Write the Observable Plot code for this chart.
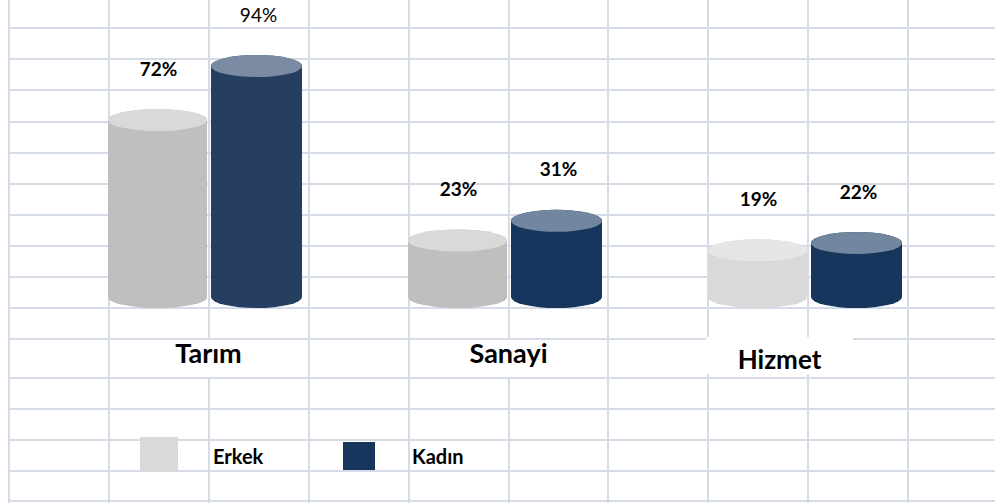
<!DOCTYPE html>
<html><head><meta charset="utf-8">
<script src="https://cdn.jsdelivr.net/npm/d3@7"></script>
<script src="https://cdn.jsdelivr.net/npm/@observablehq/plot@0.6"></script>
<style>
body{margin:0;background:#fff;}
#wrap{position:relative;width:995px;height:504px;overflow:hidden;font-family:Lato,"Open Sans",sans-serif;}
.gl{position:absolute;background:#d5dce8;}
.box{position:absolute;background:#fff;}
#chart{position:absolute;left:0;top:0;}
.sw{position:absolute;}
.lt{position:absolute;font-weight:700;font-size:20px;color:#000;line-height:22px;}
</style></head><body>
<div id="wrap"><div id="grid"></div><div id="chart"></div><div id="legend"></div></div>
<script>
// ---- data ----
const categories = ["Tarım", "Sanayi", "Hizmet"];
const series = ["Erkek", "Kadın"];
const erkek = [72, 23, 19];
const kadin = [94, 31, 22];

const data = categories.flatMap((c, i) => [
  {category: c, series: "Erkek", value: erkek[i]},
  {category: c, series: "Kadın", value: kadin[i]}
]);

// ---- styles ----
const bodyColor = {
  "Tarım|Erkek": "#bfbfbf", "Sanayi|Erkek": "#bfbfbf", "Hizmet|Erkek": "#d9d9d9",
  "Tarım|Kadın": "#263f60", "Sanayi|Kadın": "#17365d", "Hizmet|Kadın": "#17365d"
};
const topColor = {
  "Tarım|Erkek": "#d9d9d9", "Sanayi|Erkek": "#d9d9d9", "Hizmet|Erkek": "#e6e6e6",
  "Tarım|Kadın": "#7a8ba3", "Sanayi|Kadın": "#73869f", "Hizmet|Kadın": "#73869f"
};
const legendColor = {"Erkek": "#d9d9d9", "Kadın": "#17365d"};
const key = r => r.category + "|" + r.series;
const E = 11; // ellipse half-height (px)
const insets = {"Erkek": {insetLeft: 0, insetRight: 1}, "Kadın": {insetLeft: 3, insetRight: 6}};

// ---- spreadsheet grid background ----
const W = 995, H = 504;
const gridCols = [9, 109, 209, 309, 409, 509, 608, 708, 808, 908];
const gridRows = [28, 59, 90, 122, 153, 184, 215, 246, 277, 308, 339, 378, 409, 440, 471, 501];
const grid = document.getElementById("grid");
for (const x of gridCols) {
  const d = document.createElement("div"); d.className = "gl";
  Object.assign(d.style, {left: (x - 1) + "px", top: "0px", width: "2px", height: "503px"});
  grid.appendChild(d);
}
for (const y of gridRows) {
  const d = document.createElement("div"); d.className = "gl";
  Object.assign(d.style, {left: "8px", top: (y - 1) + "px", width: (W - 8) + "px", height: "2px"});
  grid.appendChild(d);
}
// white label boxes (text boxes of the original sheet)
for (const [l, t, w, h] of [[160, 340, 100, 37], [460, 340, 100, 37], [706, 337, 147, 37]]) {
  const d = document.createElement("div"); d.className = "box";
  Object.assign(d.style, {left: l + "px", top: t + "px", width: w + "px", height: h + "px"});
  grid.appendChild(d);
}

// ---- chart ----
const marks = [];
for (const s of series) {
  const d = data.filter(r => r.series === s);
  marks.push(Plot.barY(d, {
    fx: "category", x: "series", y1: 0, y2: "value", ...insets[s],
    insetTop: -E, insetBottom: -E, rx: 80, ry: E,
    fill: {value: r => bodyColor[key(r)], scale: null}
  }));
  marks.push(Plot.barY(d, {
    fx: "category", x: "series", y1: "value", y2: "value", ...insets[s],
    insetTop: -E, insetBottom: -E, rx: 80, ry: E,
    fill: {value: r => topColor[key(r)], scale: null}
  }));
}
const isPlain = r => r.category === "Tarım" && r.series === "Kadın";
marks.push(Plot.text(data.filter(r => !isPlain(r)), {
  fx: "category", x: "series", y: "value", text: r => r.value + "%",
  dy: -51, fontSize: 19, fontWeight: "bold", fill: "#000"
}));
marks.push(Plot.text(data.filter(isPlain), {
  fx: "category", x: "series", y: "value", text: r => r.value + "%",
  dy: -51, fontSize: 19, fill: "#000"
}));
marks.push(Plot.text(categories.filter(c => c !== "Hizmet"), {
  fx: d => d, text: d => d, frameAnchor: "bottom", dy: 22,
  fontSize: 27, fontWeight: "bold", fill: "#000"
}));
marks.push(Plot.text(categories.filter(c => c === "Hizmet"), {
  fx: d => d, text: d => d, frameAnchor: "bottom", dy: 28, dx: -29,
  fontSize: 26, fontWeight: "bold", fill: "#000"
}));

const plot = Plot.plot({
  width: W, height: H,
  marginLeft: 58, marginRight: 37, marginTop: 0, marginBottom: 164,
  style: {background: "transparent", fontFamily: "Lato, 'Open Sans', sans-serif", overflow: "visible"},
  fx: {domain: categories, padding: 0, axis: null},
  x: {domain: series, paddingInner: 0, paddingOuter: 0.5, axis: null},
  y: {domain: [0, 94], range: [297, 66], axis: null},
  marks
});
document.getElementById("chart").appendChild(plot);

// ---- legend ----
const legend = document.getElementById("legend");
const legendItems = [
  {s: "Erkek", sw: [140, 437, 38, 35], tx: [213, 445]},
  {s: "Kadın", sw: [343, 442, 32, 28], tx: [412, 445]}
];
for (const it of legendItems) {
  const b = document.createElement("div"); b.className = "sw";
  Object.assign(b.style, {left: it.sw[0] + "px", top: it.sw[1] + "px", width: it.sw[2] + "px", height: it.sw[3] + "px", background: legendColor[it.s]});
  legend.appendChild(b);
  const t = document.createElement("div"); t.className = "lt"; t.textContent = it.s;
  Object.assign(t.style, {left: it.tx[0] + "px", top: it.tx[1] + "px"});
  legend.appendChild(t);
}
</script>
</body></html>
